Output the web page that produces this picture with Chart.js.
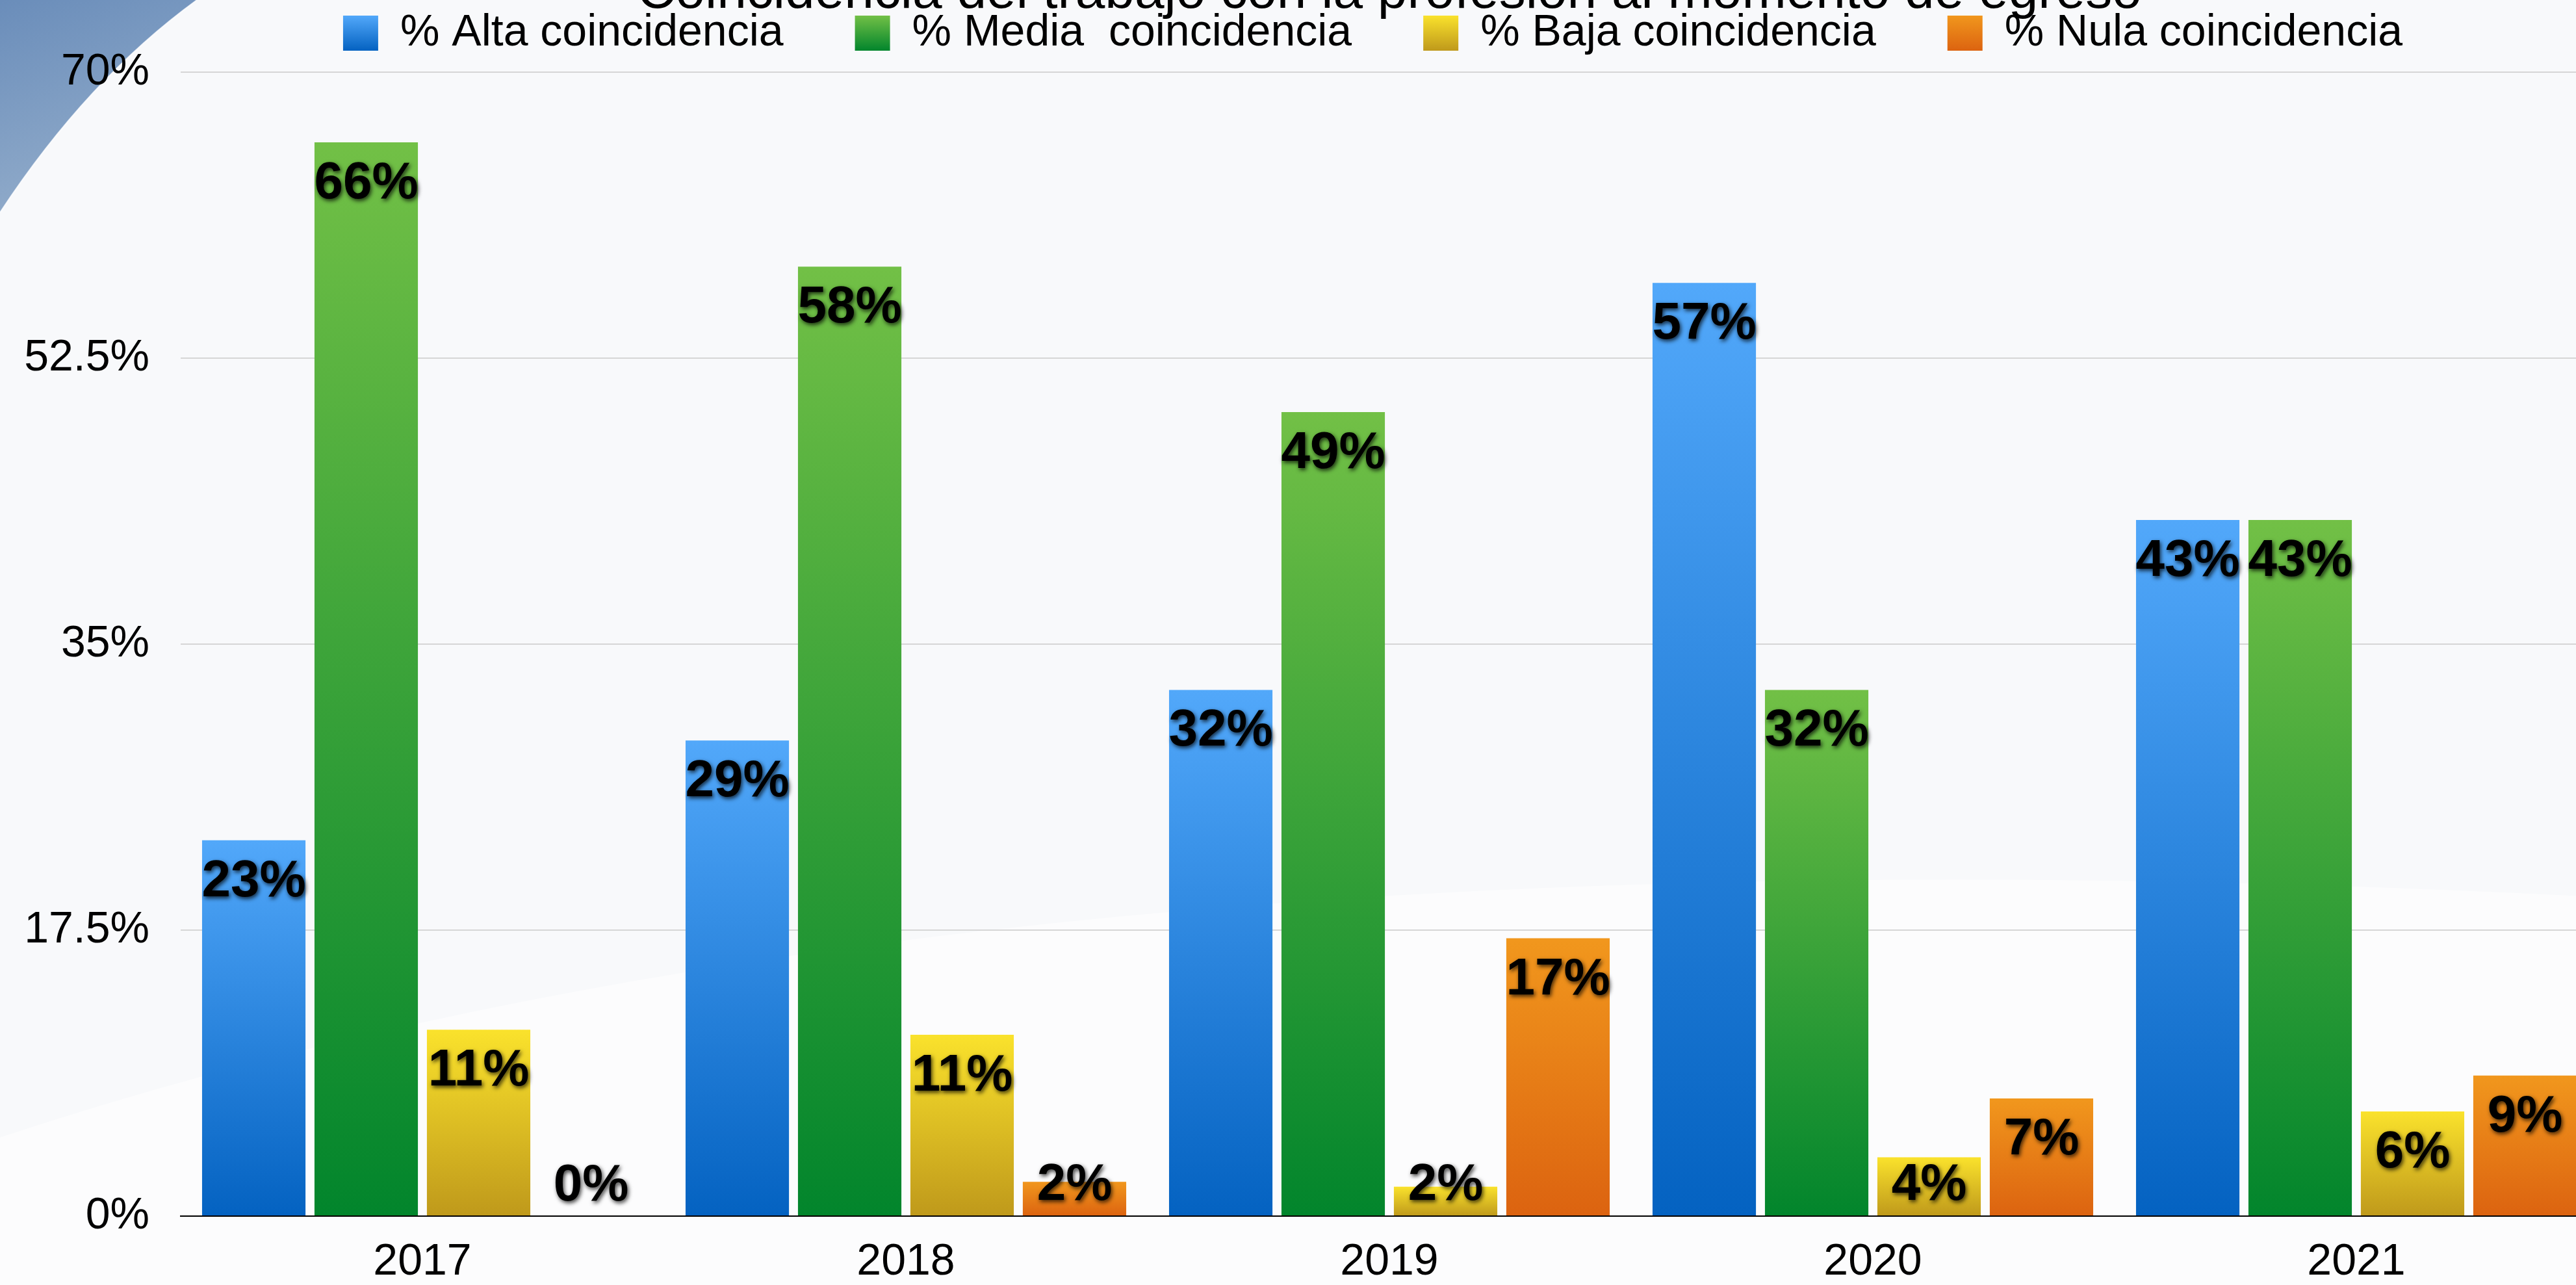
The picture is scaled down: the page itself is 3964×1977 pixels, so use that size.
<!DOCTYPE html>
<html>
<head>
<meta charset="utf-8">
<script src="https://cdn.jsdelivr.net/npm/chart.js@4.4.1/dist/chart.umd.min.js"></script>
<style>
html, body { margin: 0; padding: 0; overflow: hidden; width: 3964px; height: 1977px; background: #f8f9fb; }
#wrap { position: absolute; left: 0; top: -93px; width: 3998px; height: 2084px; }
canvas { display: block; }
</style>
</head>
<body>
<div id="wrap"><canvas id="c" width="3998" height="2084"></canvas></div>
<script>
// ---- data ----
const titleText = 'Coincidencia del trabajo con la profesión al momento de egreso';
const categories = ['2017', '2018', '2019', '2020', '2021'];
const seriesNames = ['% Alta coincidencia', '% Media  coincidencia', '% Baja coincidencia', '% Nula coincidencia'];
const alta  = [23.0, 29.1, 32.2, 57.1, 42.6];
const media = [65.7, 58.1, 49.2, 32.2, 42.6];
const baja  = [11.4, 11.1, 1.8, 3.6, 6.4];
const nula  = [0, 2.1, 17.0, 7.2, 8.6];
const yTicks = [0, 17.5, 35, 52.5, 70];
const yTickLabels = ['0%', '17.5%', '35%', '52.5%', '70%'];

// ---- styles ----
const gradTop    = ['#52a8fa', '#72c046', '#fae22c', '#f1971d'];
const gradBottom = ['#0462c1', '#02852c', '#bf991b', '#dc6310'];
const FONT = '"Liberation Sans", Arial, Helvetica, sans-serif';
const PAGE_OFFSET = 93;
const LEGEND_LEFT = 227;

function barFill(i) {
  return (ctx) => {
    if (ctx.type !== 'data') return gradTop[i];
    const chart = ctx.chart;
    const ys = chart.scales && chart.scales.y;
    if (!chart.chartArea || !ys) return gradTop[i];
    const v = ctx.dataset.data[ctx.dataIndex];
    const top = ys.getPixelForValue(v);
    const base = ys.getPixelForValue(0);
    if (base - top < 1) return gradBottom[i];
    const g = chart.ctx.createLinearGradient(0, top, 0, base);
    g.addColorStop(0, gradTop[i]);
    g.addColorStop(1, gradBottom[i]);
    return g;
  };
}

const seriesData = [alta, media, baja, nula];

const decor = {
  id: 'decor',
  beforeLayout(chart) {
    const lg = chart.legend;
    if (lg && !lg._patched) {
      const f = lg.fit;
      lg.fit = function () { f.call(this); this.height += 16; };
      lg._patched = true;
    }
  },
  afterLayout(chart) {
    if (chart.legend) chart.legend.left = LEGEND_LEFT;
  },
  beforeDraw(chart) {
    const c = chart.ctx;
    c.save();
    c.fillStyle = '#f8f9fb';
    c.fillRect(0, 0, chart.width, chart.height);
    // soft lighter band
    c.fillStyle = 'rgba(255,255,255,0.55)';
    c.beginPath();
    c.moveTo(0, PAGE_OFFSET + 1750);
    c.quadraticCurveTo(1500, PAGE_OFFSET + 1250, 3998, PAGE_OFFSET + 1380);
    c.lineTo(3998, chart.height);
    c.lineTo(0, chart.height);
    c.closePath();
    c.fill();
    // blue swoosh top-left
    const g = c.createLinearGradient(0, PAGE_OFFSET, 120, PAGE_OFFSET + 330);
    g.addColorStop(0, '#6a8dba');
    g.addColorStop(1, '#93adcb');
    c.fillStyle = g;
    c.beginPath();
    c.moveTo(0, 0);
    c.lineTo(303, 0);
    c.lineTo(303, PAGE_OFFSET);
    c.quadraticCurveTo(134.5, PAGE_OFFSET + 122.5, 0, PAGE_OFFSET + 327);
    c.closePath();
    c.fill();
    c.strokeStyle = 'rgba(255,255,255,0.8)';
    c.lineWidth = 2;
    c.beginPath();
    c.moveTo(303, PAGE_OFFSET);
    c.quadraticCurveTo(134.5, PAGE_OFFSET + 122.5, 0, PAGE_OFFSET + 327);
    c.stroke();
    c.restore();
    // legend box gradients
    const lg = chart.legend;
    if (lg && lg.legendItems) {
      const bh = lg.options.labels.boxHeight;
      const fs = lg.options.labels.font.size;
      const top = lg.top + lg.options.labels.padding + Math.max((fs - bh) / 2, 0);
      lg.legendItems.forEach((it, i) => {
        const lgG = c.createLinearGradient(0, top, 0, top + bh);
        lgG.addColorStop(0, gradTop[i]);
        lgG.addColorStop(1, gradBottom[i]);
        it.fillStyle = lgG;
      });
    }
  },
  afterDatasetsDraw(chart) {
    const c = chart.ctx;
    c.save();
    c.font = 'bold 80px ' + FONT;
    c.textAlign = 'center';
    c.textBaseline = 'alphabetic';
    c.fillStyle = '#000';
    c.shadowColor = 'rgba(0,0,0,0.75)';
    c.shadowBlur = 6;
    c.shadowOffsetX = 2;
    c.shadowOffsetY = 3;
    chart.data.datasets.forEach((ds, di) => {
      const meta = chart.getDatasetMeta(di);
      meta.data.forEach((el, j) => {
        const v = ds.data[j];
        const cy = Math.min(el.y + 58, el.base - 52);
        c.fillText(Math.round(v) + '%', el.x, cy + 28);
      });
    });
    c.restore();
  },
  afterDraw(chart) {
    const c = chart.ctx;
    c.save();
    c.font = '82px ' + FONT;
    c.textAlign = 'center';
    c.textBaseline = 'alphabetic';
    c.fillStyle = '#000';
    const cx = (chart.chartArea.left + chart.chartArea.right) / 2;
    c.fillText(titleText, cx, PAGE_OFFSET + 12);
    c.restore();
  }
};

new Chart(document.getElementById('c'), {
  type: 'bar',
  data: {
    labels: categories,
    datasets: seriesNames.map((name, i) => ({
      label: name,
      data: seriesData[i],
      backgroundColor: barFill(i),
      borderWidth: 0,
      categoryPercentage: 0.93,
      barPercentage: 0.92
    }))
  },
  options: {
    responsive: false,
    animation: false,
    devicePixelRatio: 1,
    layout: { padding: { left: 0, right: 0, top: 0, bottom: 0 } },
    plugins: {
      title: { display: false },
      tooltip: { enabled: false },
      legend: {
        display: true,
        position: 'top',
        align: 'center',
        labels: {
          boxWidth: 54,
          boxHeight: 54,
          padding: 110,
          color: '#000',
          font: { size: 68, family: FONT },
          generateLabels: (chart) => chart.data.datasets.map((ds, i) => ({
            text: ds.label,
            fillStyle: gradTop[i],
            strokeStyle: 'rgba(0,0,0,0)',
            lineWidth: 0,
            hidden: false,
            datasetIndex: i,
            fontColor: '#000'
          }))
        }
      }
    },
    scales: {
      x: {
        grid: { display: false, drawTicks: false },
        border: { display: true, color: '#000', width: 2 },
        ticks: { color: '#000', padding: 30, font: { size: 68, family: FONT } },
        afterFit: (s) => { s.height = 120; }
      },
      y: {
        min: 0,
        max: 70,
        afterBuildTicks: (s) => { s.ticks = yTicks.map(v => ({ value: v })); },
        grid: {
          drawTicks: false,
          lineWidth: 2,
          color: (ctx) => (ctx.tick && ctx.tick.value === 0) ? 'rgba(0,0,0,0)' : '#d6d6d6'
        },
        border: { display: false },
        ticks: {
          color: '#000',
          padding: 48,
          font: { size: 68, family: FONT },
          callback: (v) => yTickLabels[yTicks.indexOf(v)]
        },
        afterFit: (s) => { s.width = 278; }
      }
    }
  },
  plugins: [decor]
});
</script>
</body>
</html>
